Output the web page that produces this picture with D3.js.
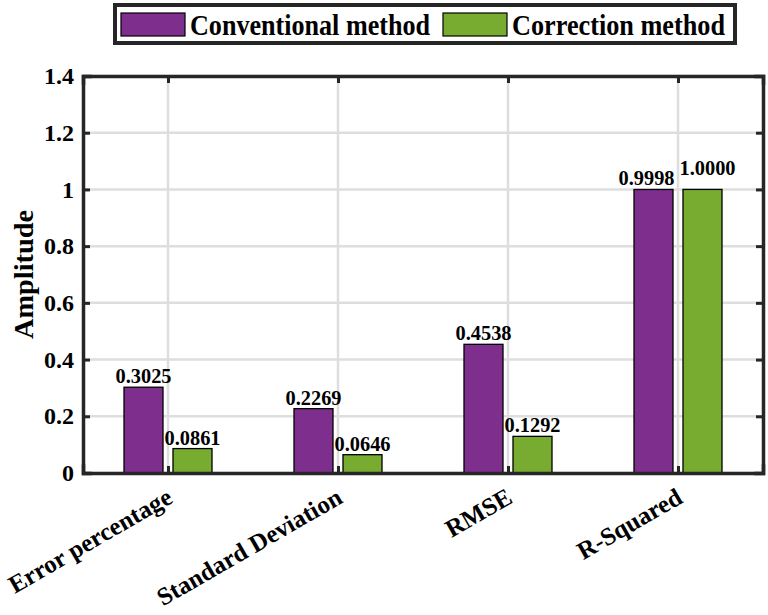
<!DOCTYPE html>
<html>
<head>
<meta charset="utf-8">
<script src="https://cdn.jsdelivr.net/npm/d3@7"></script>
<style>
  body { margin: 0; background: #fff; }
  text { font-family: "Liberation Serif", "Times New Roman", serif; font-weight: bold; fill: #000; }
</style>
</head>
<body>
<div id="chart"></div>
<script>
const categories = ['Error percentage', 'Standard Deviation', 'RMSE', 'R-Squared'];
const seriesNames = ['Conventional method', 'Correction method'];
const conventional = [0.3025, 0.2269, 0.4538, 0.9998];
const correction = [0.0861, 0.0646, 0.1292, 1.0000];
const labelsConventional = ['0.3025', '0.2269', '0.4538', '0.9998'];
const labelsCorrection = ['0.0861', '0.0646', '0.1292', '1.0000'];
const yTicks = [0, 0.2, 0.4, 0.6, 0.8, 1, 1.2, 1.4];

const COLORS = ['#7E2F8E', '#77AC30'];
const AXIS = '#262626';

// label nudges (px) so the two labels over R-Squared don't collide
const nudge = [
  [[0, 0], [0, 0], [0, 0], [-7, 0]],
  [[0, 0], [0, 0], [0, 0], [5, -10]]
];

const W = 768, H = 615;
const plot = { left: 83, right: 763, top: 76, bottom: 473 };

const svg = d3.select('#chart').append('svg')
  .attr('width', W).attr('height', H);

const x = d3.scaleLinear().domain([0.5, 4.5]).range([plot.left, plot.right]);
const y = d3.scaleLinear().domain([0, 1.4]).range([plot.bottom, plot.top]);

// grid
const grid = svg.append('g');
grid.selectAll('.gx').data(categories).enter().append('line')
  .attr('x1', (d, i) => x(i + 1)).attr('x2', (d, i) => x(i + 1))
  .attr('y1', plot.top).attr('y2', plot.bottom)
  .attr('stroke', '#dedede').attr('stroke-width', 2.5);
grid.selectAll('.gy').data(yTicks).enter().append('line')
  .attr('x1', plot.left).attr('x2', plot.right)
  .attr('y1', d => y(d)).attr('y2', d => y(d))
  .attr('stroke', '#dedede').attr('stroke-width', 2.5);

// bars
const barW = 39, off = 24.5;
const series = [conventional, correction];
const labels = [labelsConventional, labelsCorrection];
series.forEach((vals, s) => {
  const cx = i => x(i + 1) + (s === 0 ? -off : off);
  svg.append('g').selectAll('rect').data(vals).enter().append('rect')
    .attr('x', (d, i) => cx(i) - barW / 2)
    .attr('width', barW)
    .attr('y', d => y(d))
    .attr('height', d => y(0) - y(d))
    .attr('fill', COLORS[s])
    .attr('stroke', '#000').attr('stroke-width', 1.3);
  svg.append('g').selectAll('text').data(vals).enter().append('text')
    .attr('x', (d, i) => cx(i) + nudge[s][i][0])
    .attr('y', (d, i) => y(d) - 4 + nudge[s][i][1])
    .attr('text-anchor', 'middle')
    .attr('font-size', 21)
    .attr('textLength', 56).attr('lengthAdjust', 'spacingAndGlyphs')
    .text((d, i) => labels[s][i]);
});

// axes with inward ticks
const tick = 7;
const axisBottom = d3.axisBottom(x).tickValues([1, 2, 3, 4]).tickSize(-tick).tickFormat('');
const axisTop = d3.axisTop(x).tickValues([1, 2, 3, 4]).tickSize(-tick).tickFormat('');
const axisLeft = d3.axisLeft(y).tickValues(yTicks).tickSize(-tick).tickPadding(9)
  .tickFormat(d => d3.format('')(+d.toFixed(1)));
const axisRight = d3.axisRight(y).tickValues(yTicks).tickSize(-tick).tickFormat('');

function styleAxis(g) {
  g.select('.domain').attr('stroke', AXIS).attr('stroke-width', 3.5);
  g.selectAll('.tick line').attr('stroke', AXIS).attr('stroke-width', 3);
}
svg.append('g').attr('transform', `translate(0,${plot.bottom})`).call(axisBottom).call(styleAxis);
svg.append('g').attr('transform', `translate(0,${plot.top})`).call(axisTop).call(styleAxis);
svg.append('g').attr('transform', `translate(${plot.right},0)`).call(axisRight).call(styleAxis);
const gl = svg.append('g').attr('transform', `translate(${plot.left},0)`).call(axisLeft).call(styleAxis);
gl.selectAll('.tick text')
  .attr('font-size', 24).attr('font-family', '"Liberation Serif", serif')
  .attr('font-weight', 'bold').attr('fill', '#000');
svg.selectAll('.domain').attr('stroke-linecap', 'square');

// x category labels
svg.append('g').selectAll('text').data(categories).enter().append('text')
  .attr('transform', (d, i) => `translate(${x(i + 1) + 6},${plot.bottom + 29}) rotate(-30)`)
  .attr('text-anchor', 'end')
  .attr('font-size', 25)
  .text(d => d);

// y label
svg.append('text')
  .attr('transform', `translate(33,${(plot.top + plot.bottom) / 2}) rotate(-90)`)
  .attr('text-anchor', 'middle')
  .attr('font-size', 28)
  .attr('textLength', 129).attr('lengthAdjust', 'spacingAndGlyphs')
  .text('Amplitude');

// legend
const leg = svg.append('g');
leg.append('rect').attr('x', 115).attr('y', 5).attr('width', 620).attr('height', 38)
  .attr('fill', '#fff').attr('stroke', AXIS).attr('stroke-width', 4);
const legItems = [{ x: 121, tx: 190, len: 240 }, { x: 443, tx: 512, len: 213 }];
legItems.forEach((it, i) => {
  leg.append('rect').attr('x', it.x).attr('y', 13).attr('width', 64).attr('height', 23)
    .attr('fill', COLORS[i]).attr('stroke', '#000').attr('stroke-width', 1.2);
  leg.append('text').attr('x', it.tx).attr('y', 35).attr('font-size', 29)
    .attr('textLength', it.len).attr('lengthAdjust', 'spacingAndGlyphs')
    .text(seriesNames[i]);
});
</script>
</body>
</html>
